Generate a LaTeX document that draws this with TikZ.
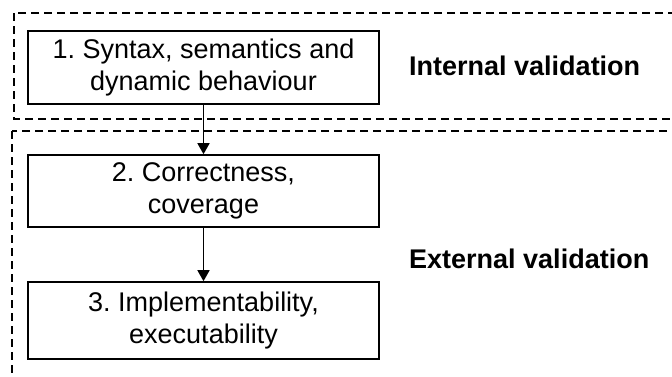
\documentclass[tikz,border=0pt]{standalone}
\usepackage{fontspec}
\setmainfont{Liberation Sans}
\usetikzlibrary{arrows.meta}
\frenchspacing
\begin{document}
\begin{tikzpicture}[x=1pt,y=-1pt,
  stepbox/.style={draw, line width=1.6pt, minimum width=351pt, inner sep=0pt, align=center,
    font=\fontsize{27}{32}\selectfont},
  group/.style={draw, line width=1.8pt, dash pattern=on 8pt off 5pt},
  flow/.style={line width=1.5pt, -{Triangle[length=11pt,width=12pt]}},
  lbl/.style={anchor=base west, inner sep=0pt, font=\fontsize{27}{32}\selectfont\bfseries}]
\useasboundingbox (0,0) rectangle (672,376);
\clip (0,0) rectangle (672,376);
\draw[group] (14,13) rectangle (720,119);
\draw[group] (12,131) rectangle (720,420);
\node[stepbox, minimum height=73pt] (s1) at (203.5,67.5) {1. Syntax, semantics and\\dynamic behaviour};
\node[stepbox, minimum height=72pt] (s2) at (203.5,191) {2. Correctness,\\coverage};
\node[stepbox, minimum height=77pt] (s3) at (203.5,320.5) {3. Implementability,\\executability};
\draw[flow] (s1) -- (s2);
\draw[flow] (s2) -- (s3);
\node[lbl] (int) at (409,75) {Internal validation};
\node[lbl] (ext) at (409,268) {External validation};
\end{tikzpicture}
\end{document}
